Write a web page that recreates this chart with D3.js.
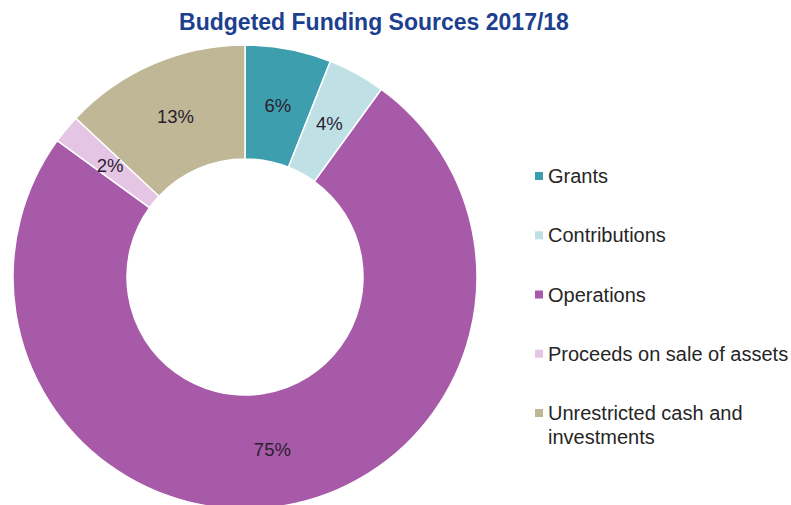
<!DOCTYPE html>
<html>
<head>
<meta charset="utf-8">
<script src="https://cdn.jsdelivr.net/npm/d3@7"></script>
<style>
  html, body { margin: 0; padding: 0; background: #fff; }
  svg { display: block; font-family: "Liberation Sans", Arial, sans-serif; }
</style>
</head>
<body>
<svg id="chart" width="791" height="505"></svg>
<script>
// Funding sources, shares in percent
const categories = ["Grants", "Contributions", "Operations", "Proceeds on sale of assets", "Unrestricted cash and investments"];
const shares = [6, 4, 75, 2, 13];
const colors = ["#3d9fad", "#bfe1e6", "#a65aa8", "#e4c6e4", "#bfb796"];
const legendLines = [["Grants"], ["Contributions"], ["Operations"], ["Proceeds on sale of assets"], ["Unrestricted cash and", "investments"]];
const title = "Budgeted Funding Sources 2017/18";

const svg = d3.select("#chart");
const cx = 245, cy = 277, outerR = 232, innerR = 118;

const data = categories.map((c, i) => ({ name: c, value: shares[i], color: colors[i] }));

const pie = d3.pie().value(d => d.value).sort(null);
const arc = d3.arc().innerRadius(innerR).outerRadius(outerR);
const labelArc = d3.arc().innerRadius((innerR + outerR) / 2).outerRadius((innerR + outerR) / 2);

const g = svg.append("g").attr("transform", `translate(${cx},${cy})`);
const arcs = pie(data);

g.selectAll("path.slice")
  .data(arcs)
  .join("path")
  .attr("class", "slice")
  .attr("d", arc)
  .attr("fill", d => d.data.color)
  .attr("stroke", "#ffffff")
  .attr("stroke-width", 1.5);

g.selectAll("text.pct")
  .data(arcs)
  .join("text")
  .attr("class", "pct")
  .attr("transform", d => `translate(${labelArc.centroid(d)})`)
  .attr("text-anchor", "middle")
  .attr("dominant-baseline", "central")
  .attr("font-size", 18.5)
  .attr("fill", "#2b2030")
  .text(d => d.data.value + "%");

// Title
svg.append("text")
  .attr("x", 374)
  .attr("y", 30)
  .attr("text-anchor", "middle")
  .attr("font-size", 23)
  .attr("font-weight", "bold")
  .attr("fill", "#1d3f8f")
  .text(title);

// Legend
const legendY = d3.scalePoint().domain(categories).range([176, 413]);
const legend = svg.append("g");
const items = legend.selectAll("g.item")
  .data(data)
  .join("g")
  .attr("class", "item")
  .attr("transform", d => `translate(535,${legendY(d.name)})`);

items.append("rect")
  .attr("x", 0)
  .attr("y", -4)
  .attr("width", 8)
  .attr("height", 8)
  .attr("fill", d => d.color);

items.append("text")
  .attr("x", 13)
  .attr("y", 0)
  .attr("dominant-baseline", "central")
  .attr("font-size", 20)
  .attr("fill", "#262626")
  .selectAll("tspan")
  .data((d, i) => legendLines[i].map((t, j) => ({ t, j })))
  .join("tspan")
  .attr("x", 13)
  .attr("dy", d => d.j === 0 ? 0 : 24)
  .text(d => d.t);
</script>
</body>
</html>
